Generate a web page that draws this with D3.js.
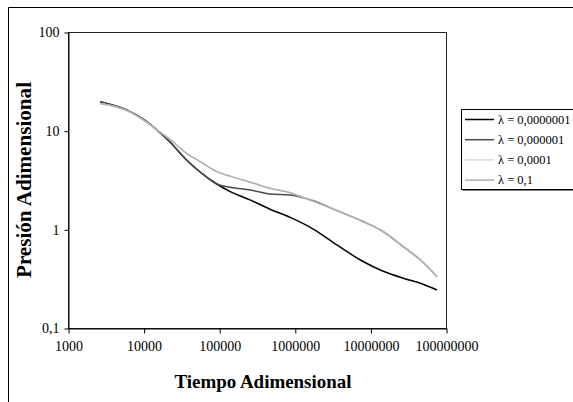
<!DOCTYPE html>
<html>
<head>
<meta charset="utf-8">
<script src="https://cdn.jsdelivr.net/npm/d3@7"></script>
<style>
  html, body { margin: 0; padding: 0; background: #fff; }
  svg { display: block; font-family: "Liberation Serif", "Times New Roman", serif; }
</style>
</head>
<body>
<div id="chart"></div>
<script>
// Dimensionless pressure vs dimensionless time, log-log, four lambda values

const tiempo = [2650, 6000, 10000, 15000, 22000, 37000, 56000, 93000, 140000, 260000,
  470000, 870000, 1800000, 3600000, 8000000, 14000000, 28000000, 46000000, 76000000];

const lambda1e7 = [19.7, 16.2, 13.0, 10.2, 7.77, 5.05, 3.81, 2.88, 2.41, 1.98,
  1.60, 1.32, 0.995, 0.694, 0.472, 0.383, 0.318, 0.284, 0.243];

const lambda1e6 = [19.7, 16.2, 13.0, 10.2, 7.77, 5.05, 3.81, 2.88, 2.67, 2.50,
  2.28, 2.23, 1.94, 1.55, 1.20, 0.973, 0.655, 0.489, 0.331];

const lambda1e4 = [18.9, 16.0, 12.8, 10.2, 8.24, 5.90, 4.85, 3.84, 3.46, 3.00,
  2.61, 2.35, 1.91, 1.55, 1.20, 0.973, 0.655, 0.489, 0.331];

const lambda01 = [18.9, 16.0, 12.8, 10.2, 8.24, 5.90, 4.85, 3.84, 3.46, 3.00,
  2.61, 2.35, 1.91, 1.55, 1.20, 0.973, 0.655, 0.489, 0.331];

const seriesNames = ["\u03bb = 0,0000001", "\u03bb = 0,000001", "\u03bb = 0,0001", "\u03bb = 0,1"];
const seriesValues = [lambda1e7, lambda1e6, lambda1e4, lambda01];
const seriesColors = ["#000000", "#4a4a4a", "#dadada", "#b0b0b0"];

const xTicks = [1000, 10000, 100000, 1000000, 10000000, 100000000];
const yTicks = [0.1, 1, 10, 100];
const yTickLabels = ["0,1", "1", "10", "100"];

const width = 573, height = 402;
const plot = { left: 68, top: 32, right: 446, bottom: 328 };

const svg = d3.select("#chart")
  .append("svg")
  .attr("width", width)
  .attr("height", height);

// outer chart frame (clipped at right and bottom in the reference)
svg.append("path")
  .attr("d", `M8.5,${height} V7.5 H${width}`)
  .attr("fill", "none")
  .attr("stroke", "#000")
  .attr("stroke-width", 1);

const x = d3.scaleLog().domain([1e3, 1e8]).range([plot.left, plot.right]);
const y = d3.scaleLog().domain([0.1, 100]).range([plot.bottom, plot.top]);

// plot area border
svg.append("rect")
  .attr("x", plot.left + 0.5)
  .attr("y", plot.top + 0.5)
  .attr("width", plot.right - plot.left)
  .attr("height", plot.bottom - plot.top)
  .attr("fill", "none")
  .attr("stroke", "#222");

// x axis
const xAxis = svg.append("g")
  .attr("transform", `translate(0.5,${plot.bottom + 0.5})`)
  .call(d3.axisBottom(x).tickValues(xTicks).tickSize(5).tickSizeOuter(0).tickFormat(d3.format("d")));
xAxis.select(".domain").attr("stroke", "#000");
xAxis.selectAll(".tick line").attr("stroke", "#000");
xAxis.selectAll(".tick text")
  .attr("y", 22)
  .attr("dy", 0)
  .style("font-family", "Liberation Serif")
  .style("font-size", "14px")
  .attr("fill", "#000");

// y axis
const yAxis = svg.append("g")
  .attr("transform", `translate(${plot.left + 0.5},0.5)`)
  .call(d3.axisLeft(y).tickValues(yTicks).tickSize(4).tickSizeOuter(0)
    .tickFormat((d, i) => yTickLabels[i]));
yAxis.select(".domain").attr("stroke", "#000");
yAxis.selectAll(".tick line").attr("stroke", "#000");
yAxis.selectAll(".tick text")
  .attr("x", -9)
  .style("font-family", "Liberation Serif")
  .style("font-size", "14px")
  .attr("fill", "#000");

// curves
const line = d3.line()
  .x((d, i) => x(tiempo[i]))
  .y(d => y(d))
  .curve(d3.curveMonotoneX);

svg.append("g")
  .selectAll("path")
  .data(seriesValues)
  .join("path")
  .attr("d", d => line(d))
  .attr("fill", "none")
  .attr("stroke", (d, i) => seriesColors[i])
  .attr("stroke-width", 1.5);

// axis titles
svg.append("text")
  .attr("x", 263)
  .attr("y", 388)
  .attr("text-anchor", "middle")
  .attr("textLength", 177)
  .attr("lengthAdjust", "spacingAndGlyphs")
  .style("font-size", "19px")
  .style("font-weight", "bold")
  .text("Tiempo Adimensional");

svg.append("text")
  .attr("transform", "translate(31,180) rotate(-90)")
  .attr("text-anchor", "middle")
  .attr("textLength", 196)
  .attr("lengthAdjust", "spacingAndGlyphs")
  .style("font-size", "20px")
  .style("font-weight", "bold")
  .text("Presión Adimensional");

// legend
const legend = svg.append("g").attr("transform", "translate(461,109)");
legend.append("rect")
  .attr("x", 1.5).attr("y", 1.5)
  .attr("width", 130).attr("height", 80)
  .attr("fill", "#000");
legend.append("rect")
  .attr("x", 0.5).attr("y", 0.5)
  .attr("width", 130).attr("height", 80)
  .attr("fill", "#fff")
  .attr("stroke", "#000");

const items = legend.selectAll(".item")
  .data(seriesNames)
  .join("g")
  .attr("class", "item")
  .attr("transform", (d, i) => `translate(0,${10.5 + i * 20.2})`);
items.append("line")
  .attr("x1", 4).attr("x2", 33)
  .attr("stroke", (d, i) => seriesColors[i])
  .attr("stroke-width", 1.5);
items.append("text")
  .attr("x", 37)
  .attr("dy", "0.35em")
  .style("font-size", "12.5px")
  .text(d => d);
</script>
</body>
</html>
